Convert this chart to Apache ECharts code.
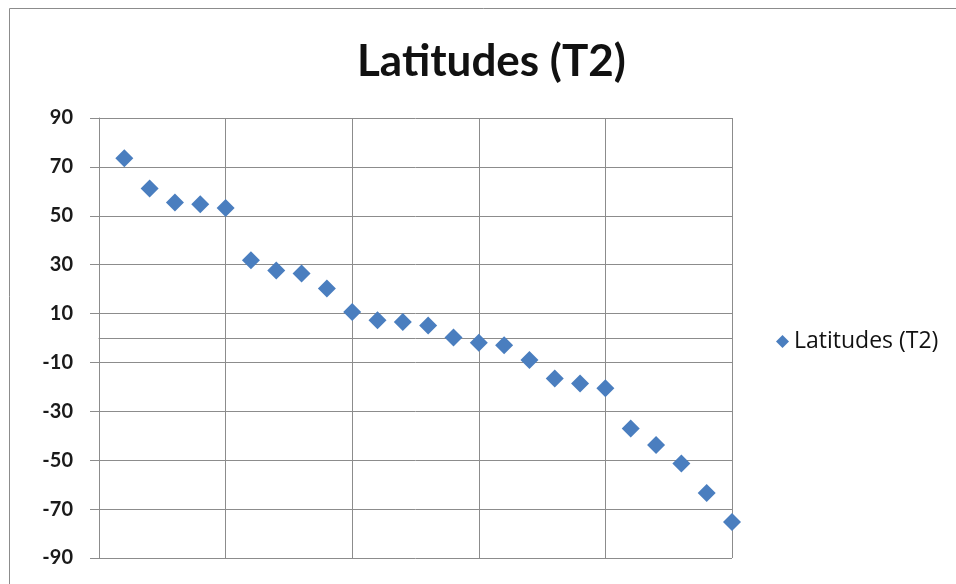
<!DOCTYPE html>
<html>
<head>
<meta charset="utf-8">
<script src="https://cdn.jsdelivr.net/npm/echarts@6/dist/echarts.min.js"></script>
<style>
  html, body { margin: 0; padding: 0; background: #fff; }
  #chart { width: 956px; height: 584px; }
</style>
</head>
<body>
<div id="chart"></div>
<script>
var seriesName = 'Latitudes (T2)';
var xValues = [1, 2, 3, 4, 5, 6, 7, 8, 9, 10, 11, 12, 13, 14, 15, 16, 17, 18, 19, 20, 21, 22, 23, 24, 25];
var latitudes = [73.5, 61.2, 55.4, 54.7, 53.2, 31.8, 27.6, 26.4, 20.2, 10.6,
                 7.3, 6.5, 5.1, 0.2, -1.9, -3.0, -9.0, -16.6, -18.6, -20.6,
                 -37.0, -43.8, -51.3, -63.4, -75.3];
var yTicks = [-90, -70, -50, -30, -10, 10, 30, 50, 70, 90];

var points = [];
for (var i = 0; i < xValues.length; i++) {
    points.push([xValues[i], latitudes[i]]);
}

var myChart = echarts.init(document.getElementById('chart'));
var font = 'Lato, "Open Sans", sans-serif';

var option = {
    backgroundColor: '#fff',
    animation: false,
    title: {
        text: seriesName,
        left: 357,
        top: 40,
        padding: 0,
        textStyle: {
            fontFamily: font,
            fontSize: 44,
            fontWeight: 'bold',
            color: '#111'
        }
    },
    legend: {
        left: 771,
        top: 325,
        icon: 'diamond',
        itemWidth: 13,
        itemHeight: 13,
        itemGap: 6,
        textStyle: {
            fontFamily: '"Open Sans", sans-serif',
            fontSize: 23,
            color: '#111'
        },
        data: [seriesName]
    },
    graphic: [{
        type: 'rect',
        shape: { x: 9.5, y: 8.5, width: 1000, height: 700 },
        style: { fill: 'none', stroke: '#8c8c8c', lineWidth: 1 },
        silent: true
    }],
    grid: {
        left: 99,
        right: 224,
        top: 118,
        bottom: 26
    },
    xAxis: {
        type: 'value',
        min: 0,
        max: 25,
        interval: 5,
        axisLine: { show: true, onZero: true, lineStyle: { color: '#8c8c8c', width: 1 } },
        axisTick: { show: false },
        axisLabel: { show: false },
        splitLine: { show: true, lineStyle: { color: '#8c8c8c', width: 1 } }
    },
    yAxis: {
        type: 'value',
        min: -90,
        max: 90,
        interval: 20,
        axisLine: { show: true, onZero: false, lineStyle: { color: '#8c8c8c', width: 1 } },
        axisTick: { show: true, inside: false, length: 9, lineStyle: { color: '#8c8c8c' } },
        axisLabel: {
            margin: 26,
            fontFamily: font,
            fontSize: 20,
            fontWeight: 'bold',
            color: '#1a1a1a',
            formatter: function (v) { return yTicks.indexOf(v) >= 0 ? String(v) : ''; }
        },
        splitLine: { show: true, lineStyle: { color: '#8c8c8c', width: 1 } }
    },
    series: [{
        name: seriesName,
        type: 'scatter',
        symbol: 'diamond',
        symbolSize: 18,
        itemStyle: { color: '#4a7ebf', opacity: 1 },
        data: points
    }]
};

myChart.setOption(option);
</script>
</body>
</html>
